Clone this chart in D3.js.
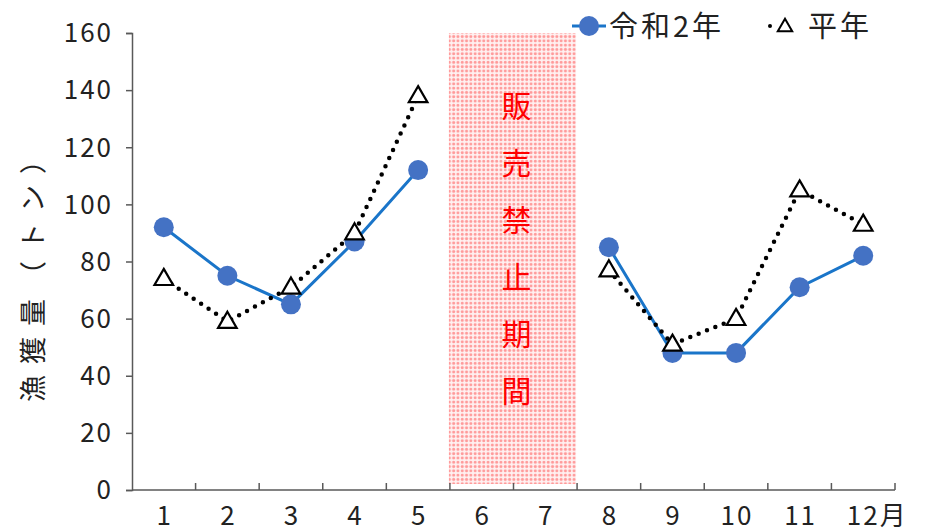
<!DOCTYPE html>
<html>
<head>
<meta charset="utf-8">
<script src="https://cdn.jsdelivr.net/npm/d3@7"></script>
<style>
  html, body { margin: 0; padding: 0; background: #fff; }
  svg { display: block; }
  text { font-family: "Noto Sans CJK JP", "Noto Sans", sans-serif; }
</style>
</head>
<body>
<svg id="chart" width="926" height="531"></svg>
<script>
// Monthly catch (tons)
const months = ["1", "2", "3", "4", "5", "6", "7", "8", "9", "10", "11", "12"];
const monthLabels = ["1", "2", "3", "4", "5", "6", "7", "8", "9", "10", "11", "12"];
const monthUnit = "月";
const reiwa2 = [92, 75, 65, 87, 112, null, null, 85, 48, 48, 71, 82];
const normalYear = [74, 59, 71, 90, 138, null, null, 77, 51, 60, 105, 93];
const yTicks = [0, 20, 40, 60, 80, 100, 120, 140, 160];
const closedMonths = ["6", "7"];
const closedLabel = "販売禁止期間";
const seriesNames = ["令和2年", "平年"];
const yTitle = "漁獲量（トン）";

const svg = d3.select("#chart");
const margin = { left: 132, right: 31, top: 33, bottom: 41 };
const W = 926, H = 531;

const x = d3.scaleBand().domain(months).range([margin.left, W - margin.right]);
const y = d3.scaleLinear().domain([0, 160]).range([H - margin.bottom, margin.top]);

// dotted pink fill for the sales-ban band
const defs = svg.append("defs");
const pat = defs.append("pattern")
  .attr("id", "dots").attr("patternUnits", "userSpaceOnUse")
  .attr("width", 4.3).attr("height", 4.3);
pat.append("rect").attr("width", 4.3).attr("height", 4.3).attr("fill", "#fff0f0");
pat.append("circle").attr("cx", 2.15).attr("cy", 2.15).attr("r", 1.5).attr("fill", "#ff9a9a");

const bandX0 = x(closedMonths[0]);
const bandX1 = x(closedMonths[closedMonths.length - 1]) + x.bandwidth();
svg.append("rect")
  .attr("x", bandX0 - 1).attr("y", y(160))
  .attr("width", bandX1 - bandX0).attr("height", y(0) - y(160) - 6)
  .attr("fill", "url(#dots)");

const labelCx = (bandX0 + bandX1) / 2 + 3;
svg.append("g").selectAll("text")
  .data(Array.from(closedLabel))
  .join("text")
  .attr("x", labelCx)
  .attr("y", (d, i) => y(130) + i * (y(0) - y(20)) - 2)
  .attr("text-anchor", "middle")
  .attr("font-size", 30)
  .attr("fill", "#ff0000")
  .text(d => d);

// axes
const axisColor = "#595959";
const yAxis = svg.append("g")
  .attr("transform", `translate(${margin.left},0)`)
  .call(d3.axisLeft(y).tickValues(yTicks).tickSize(6).tickPadding(13));
const xAxis = svg.append("g")
  .attr("transform", `translate(0,${y(0)})`)
  .call(d3.axisBottom(x).tickSize(0).tickPadding(17).tickFormat((d, i) => monthLabels[i]));
[yAxis, xAxis].forEach(g => {
  g.select(".domain").attr("stroke", axisColor).attr("stroke-width", 1.5);
  g.selectAll(".tick line").attr("stroke", axisColor).attr("stroke-width", 1.5);
  g.selectAll("text").attr("font-size", 26).attr("fill", "#222")
    .style("font-family", "'Noto Sans CJK JP', sans-serif")
    .attr("letter-spacing", 2);
});
yAxis.selectAll(".tick text").attr("dy", "0.34em");
xAxis.selectAll(".tick text").attr("dy", "0.71em").attr("dx", 1);
// month unit after the last label
const lastTick = xAxis.selectAll(".tick text").filter((d, i, n) => i === n.length - 1);
lastTick.attr("dx", 13).append("tspan").attr("letter-spacing", 0).text(monthUnit);
xAxis.select(".domain").attr("d", `M${margin.left},0H${W - margin.right}`);
// ticks between months on the category axis
xAxis.selectAll(".boundary")
  .data(months)
  .join("line")
  .attr("stroke", axisColor).attr("stroke-width", 1.5)
  .attr("x1", d => x(d) + x.bandwidth())
  .attr("x2", d => x(d) + x.bandwidth())
  .attr("y1", 0).attr("y2", -7);

// y-axis title
svg.append("text")
  .attr("transform", `translate(43,${269}) rotate(-90)`)
  .attr("text-anchor", "middle")
  .attr("font-size", 27)
  .attr("fill", "#222")
  .attr("letter-spacing", 11)
  .text(yTitle);

const cx = m => x(m) + x.bandwidth() / 2;

// Reiwa 2 series: solid blue line with filled circles
const pts1 = months.map((m, i) => ({ m, v: reiwa2[i] }));
const line = d3.line().defined(d => d.v != null).x(d => cx(d.m)).y(d => y(d.v));
svg.append("path").datum(pts1)
  .attr("d", line).attr("fill", "none")
  .attr("stroke", "#1a75c9").attr("stroke-width", 3);
svg.append("g").selectAll("circle")
  .data(pts1.filter(d => d.v != null))
  .join("circle")
  .attr("cx", d => cx(d.m)).attr("cy", d => y(d.v)).attr("r", 10)
  .attr("fill", "#4472c4");

// normal-year series: dotted black line with open triangles
const pts2 = months.map((m, i) => ({ m, v: normalYear[i] }));
svg.append("path").datum(pts2)
  .attr("d", line).attr("fill", "none")
  .attr("stroke", "#000").attr("stroke-width", 4.5)
  .attr("stroke-linecap", "round").attr("stroke-dasharray", "0 9");
const tri = d3.symbol().type(d3.symbolTriangle).size(150);
svg.append("g").selectAll("path")
  .data(pts2.filter(d => d.v != null))
  .join("path")
  .attr("d", tri)
  .attr("transform", d => `translate(${cx(d.m)},${y(d.v) + 1})`)
  .attr("fill", "#fff").attr("stroke", "#000").attr("stroke-width", 2.2);

// legend
const lg = svg.append("g");
lg.append("line").attr("x1", 572).attr("x2", 606).attr("y1", 26).attr("y2", 26)
  .attr("stroke", "#1a75c9").attr("stroke-width", 3);
lg.append("circle").attr("cx", 589).attr("cy", 26).attr("r", 10).attr("fill", "#4472c4");
lg.append("text").attr("x", 609).attr("y", 37).attr("font-size", 29).attr("fill", "#222")
  .attr("letter-spacing", 3).text(seriesNames[0]);
lg.append("line").attr("x1", 770).attr("x2", 800).attr("y1", 26).attr("y2", 26)
  .attr("stroke", "#000").attr("stroke-width", 4).attr("stroke-linecap", "round")
  .attr("stroke-dasharray", "0 30");
lg.append("path").attr("d", d3.symbol().type(d3.symbolTriangle).size(90))
  .attr("transform", "translate(785,27)")
  .attr("fill", "#fff").attr("stroke", "#000").attr("stroke-width", 2);
lg.append("text").attr("x", 808).attr("y", 37).attr("font-size", 29).attr("fill", "#222")
  .attr("letter-spacing", 3).text(seriesNames[1]);
</script>
</body>
</html>
